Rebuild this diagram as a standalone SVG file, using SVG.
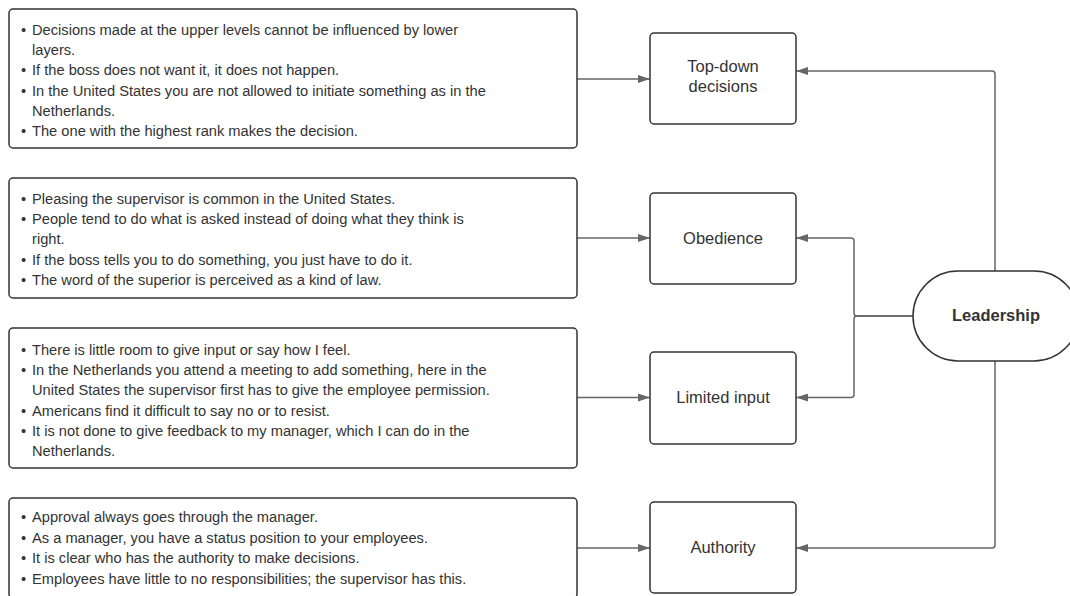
<svg xmlns="http://www.w3.org/2000/svg" width="1070" height="596" viewBox="0 0 1070 596">
  <defs>
    <marker id="arrow" viewBox="0 0 12 8" refX="12" refY="4" markerWidth="12" markerHeight="8" markerUnits="userSpaceOnUse" orient="auto">
      <path d="M0,0 L12,4 L0,8 Z" fill="#666666"/>
    </marker>
    <style>
      .box { fill: #ffffff; stroke: #333333; stroke-width: 1.5; }
      .note { font-family: "Liberation Sans", Arial, sans-serif; font-size: 14.67px; fill: #333333; }
      .label { font-family: "Liberation Sans", Arial, sans-serif; font-size: 16.5px; fill: #333333; text-anchor: middle; }
      .hub { font-family: "Liberation Sans", Arial, sans-serif; font-size: 16.5px; font-weight: bold; fill: #333333; text-anchor: middle; }
      .conn { fill: none; stroke: #666666; stroke-width: 1.5; marker-end: url(#arrow); }
    </style>
  </defs>
  <rect width="1070" height="596" fill="#ffffff"/>

  <!-- connectors -->
  <g id="connectors">
    <path class="conn" d="M577,79 H650"/>
    <path class="conn" d="M577,238 H650"/>
    <path class="conn" d="M577,397.5 H650"/>
    <path class="conn" d="M577,548 H650"/>
    <path class="conn" d="M995,271 V74 Q995,71 992,71 H796"/>
    <path class="conn" d="M913,316 H857 Q854,316 854,313 V241 Q854,238 851,238 H796"/>
    <path class="conn" d="M913,316 H857 Q854,316 854,319 V394.5 Q854,397.5 851,397.5 H796"/>
    <path class="conn" d="M995,361 V545 Q995,548 992,548 H796"/>
  </g>

  <!-- statement boxes -->
  <g id="notes-topdown">
    <rect class="box" x="9" y="9" width="568" height="139" rx="4"/>
    <text class="note">
      <tspan x="21" y="35">•</tspan><tspan x="32" y="35">Decisions made at the upper levels cannot be influenced by lower</tspan>
      <tspan x="32" y="55.2">layers.</tspan>
      <tspan x="21" y="75.4">•</tspan><tspan x="32" y="75.4">If the boss does not want it, it does not happen.</tspan>
      <tspan x="21" y="95.6">•</tspan><tspan x="32" y="95.6">In the United States you are not allowed to initiate something as in the</tspan>
      <tspan x="32" y="115.8">Netherlands.</tspan>
      <tspan x="21" y="136">•</tspan><tspan x="32" y="136">The one with the highest rank makes the decision.</tspan>
    </text>
  </g>

  <g id="notes-obedience">
    <rect class="box" x="9" y="178" width="568" height="120" rx="4"/>
    <text class="note">
      <tspan x="21" y="204">•</tspan><tspan x="32" y="204">Pleasing the supervisor is common in the United States.</tspan>
      <tspan x="21" y="224.2">•</tspan><tspan x="32" y="224.2">People tend to do what is asked instead of doing what they think is</tspan>
      <tspan x="32" y="244.4">right.</tspan>
      <tspan x="21" y="264.6">•</tspan><tspan x="32" y="264.6">If the boss tells you to do something, you just have to do it.</tspan>
      <tspan x="21" y="284.8">•</tspan><tspan x="32" y="284.8">The word of the superior is perceived as a kind of law.</tspan>
    </text>
  </g>

  <g id="notes-input">
    <rect class="box" x="9" y="328" width="568" height="140" rx="4"/>
    <text class="note">
      <tspan x="21" y="355">•</tspan><tspan x="32" y="355">There is little room to give input or say how I feel.</tspan>
      <tspan x="21" y="375.2">•</tspan><tspan x="32" y="375.2">In the Netherlands you attend a meeting to add something, here in the</tspan>
      <tspan x="32" y="395.4">United States the supervisor first has to give the employee permission.</tspan>
      <tspan x="21" y="415.6">•</tspan><tspan x="32" y="415.6">Americans find it difficult to say no or to resist.</tspan>
      <tspan x="21" y="435.8">•</tspan><tspan x="32" y="435.8">It is not done to give feedback to my manager, which I can do in the</tspan>
      <tspan x="32" y="456">Netherlands.</tspan>
    </text>
  </g>

  <g id="notes-authority">
    <rect class="box" x="9" y="498" width="568" height="100" rx="4"/>
    <text class="note">
      <tspan x="21" y="522">•</tspan><tspan x="32" y="522">Approval always goes through the manager.</tspan>
      <tspan x="21" y="542.6">•</tspan><tspan x="32" y="542.6">As a manager, you have a status position to your employees.</tspan>
      <tspan x="21" y="563.2">•</tspan><tspan x="32" y="563.2">It is clear who has the authority to make decisions.</tspan>
      <tspan x="21" y="584">•</tspan><tspan x="32" y="584">Employees have little to no responsibilities; the supervisor has this.</tspan>
    </text>
  </g>

  <!-- theme boxes -->
  <g id="topdown">
    <rect class="box" x="650" y="33" width="146" height="91" rx="4"/>
    <text class="label"><tspan x="723" y="72">Top-down</tspan><tspan x="723" y="92">decisions</tspan></text>
  </g>
  <g id="obedience">
    <rect class="box" x="650" y="193" width="146" height="91" rx="4"/>
    <text class="label" x="723" y="244">Obedience</text>
  </g>
  <g id="limited-input">
    <rect class="box" x="650" y="352" width="146" height="92" rx="4"/>
    <text class="label" x="723" y="403">Limited input</text>
  </g>
  <g id="authority">
    <rect class="box" x="650" y="502" width="146" height="91" rx="4"/>
    <text class="label" x="723" y="553">Authority</text>
  </g>

  <!-- central concept -->
  <g id="leadership">
    <rect class="box" x="913" y="271" width="166" height="90" rx="45"/>
    <text class="hub" x="996" y="321">Leadership</text>
  </g>
</svg>
